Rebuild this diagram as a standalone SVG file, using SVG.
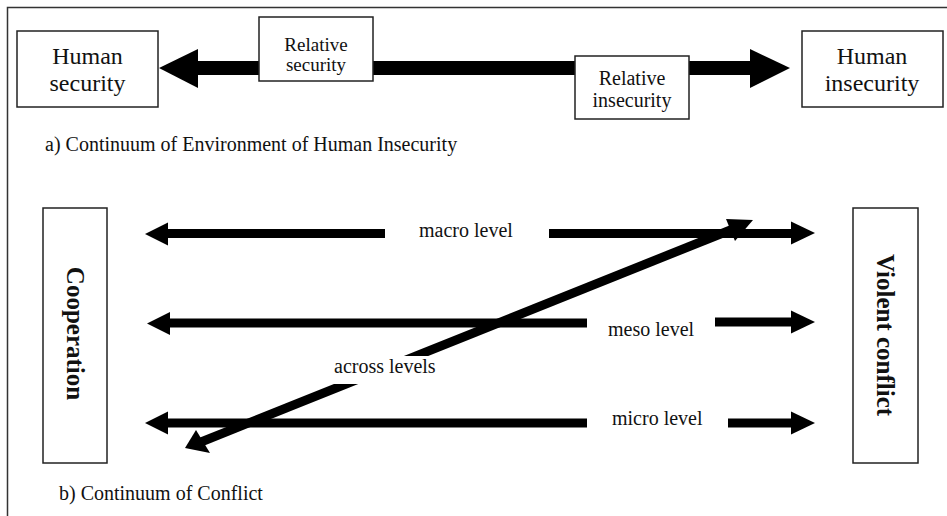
<svg xmlns="http://www.w3.org/2000/svg" width="947" height="516" viewBox="0 0 947 516">
<style>
.box{fill:#fff;stroke:#222;stroke-width:1.5}
.t{font-family:"Liberation Serif","Times New Roman",serif;fill:#111;font-size:20px}
.sm{font-size:19px}
.big{font-size:24px}
.b{font-family:"Liberation Serif","Times New Roman",serif;fill:#111;font-size:25px;font-weight:bold}
.thin{stroke:#000;stroke-width:9;fill:none}
.head{fill:#000}
</style>
<rect width="947" height="516" fill="#fff"/>
<path d="M7.5 516V7.5H947" fill="none" stroke="#333" stroke-width="1.5"/>

<g id="connectors">
  <!-- top continuum arrow -->
  <rect x="196" y="61" width="556" height="14" fill="#000"/>
  <polygon class="head" points="159,68 198,49 198,88"/>
  <polygon class="head" points="790,68 750,49 750,88"/>
  <!-- macro -->
  <line class="thin" x1="166" y1="233.5" x2="385" y2="233.5"/>
  <polygon class="head" points="145,234 168,222.5 168,245.5"/>
  <line class="thin" x1="549" y1="233.5" x2="793" y2="233.5"/>
  <polygon class="head" points="815,233 791,221.5 791,244.5"/>
  <!-- meso -->
  <line class="thin" x1="168" y1="323" x2="587" y2="323"/>
  <polygon class="head" points="147,323.5 170,312 170,335"/>
  <line class="thin" x1="715" y1="322" x2="793" y2="322"/>
  <polygon class="head" points="815,322 791,310.5 791,333.5"/>
  <!-- micro -->
  <line class="thin" x1="166" y1="423" x2="587" y2="423"/>
  <polygon class="head" points="145,423 168,411.5 168,434.5"/>
  <line class="thin" x1="728" y1="423" x2="793" y2="423"/>
  <polygon class="head" points="815,423 791,411.5 791,434.5"/>
  <!-- across levels diagonal -->
  <line class="thin" x1="201" y1="442" x2="733" y2="229"/>
  <rect x="300" y="356" width="160" height="28" fill="#fff"/>
  <polygon class="head" points="185,448 196,430 210,453"/>
  <polygon class="head" points="753,220 726,219 735,241"/>
</g>

<g id="human-security">
  <rect class="box" x="17" y="31" width="141" height="76"/>
  <text class="t big" x="87.5" y="64" text-anchor="middle">Human</text>
  <text class="t big" x="87.5" y="91" text-anchor="middle">security</text>
</g>
<g id="relative-security">
  <rect class="box" x="259" y="17" width="114" height="64"/>
  <text class="t sm" x="316" y="51" text-anchor="middle">Relative</text>
  <text class="t sm" x="316" y="71" text-anchor="middle">security</text>
</g>
<g id="relative-insecurity">
  <rect class="box" x="575" y="56" width="114" height="63"/>
  <text class="t" x="632" y="85" text-anchor="middle">Relative</text>
  <text class="t" x="632" y="107" text-anchor="middle">insecurity</text>
</g>
<g id="human-insecurity">
  <rect class="box" x="802" y="31" width="141" height="76"/>
  <text class="t big" x="872" y="64" text-anchor="middle">Human</text>
  <text class="t big" x="872" y="91" text-anchor="middle">insecurity</text>
</g>
<text class="t" x="45" y="151">a) Continuum of Environment of Human Insecurity</text>

<g id="cooperation">
  <rect class="box" x="43" y="208" width="64" height="255"/>
  <text class="b" transform="translate(67,333.5) rotate(90)" text-anchor="middle">Cooperation</text>
</g>
<g id="violent-conflict">
  <rect class="box" x="853" y="208" width="65" height="255"/>
  <text class="b" transform="translate(877,335) rotate(90)" text-anchor="middle">Violent conflict</text>
</g>

<g id="labels">
  <text class="t" x="419" y="237">macro level</text>
  <text class="t" x="608" y="336">meso level</text>
  <text class="t" x="612" y="425">micro level</text>
  <text class="t" x="334" y="373">across levels</text>
</g>
<text class="t" x="59" y="500">b) Continuum of Conflict</text>
</svg>
